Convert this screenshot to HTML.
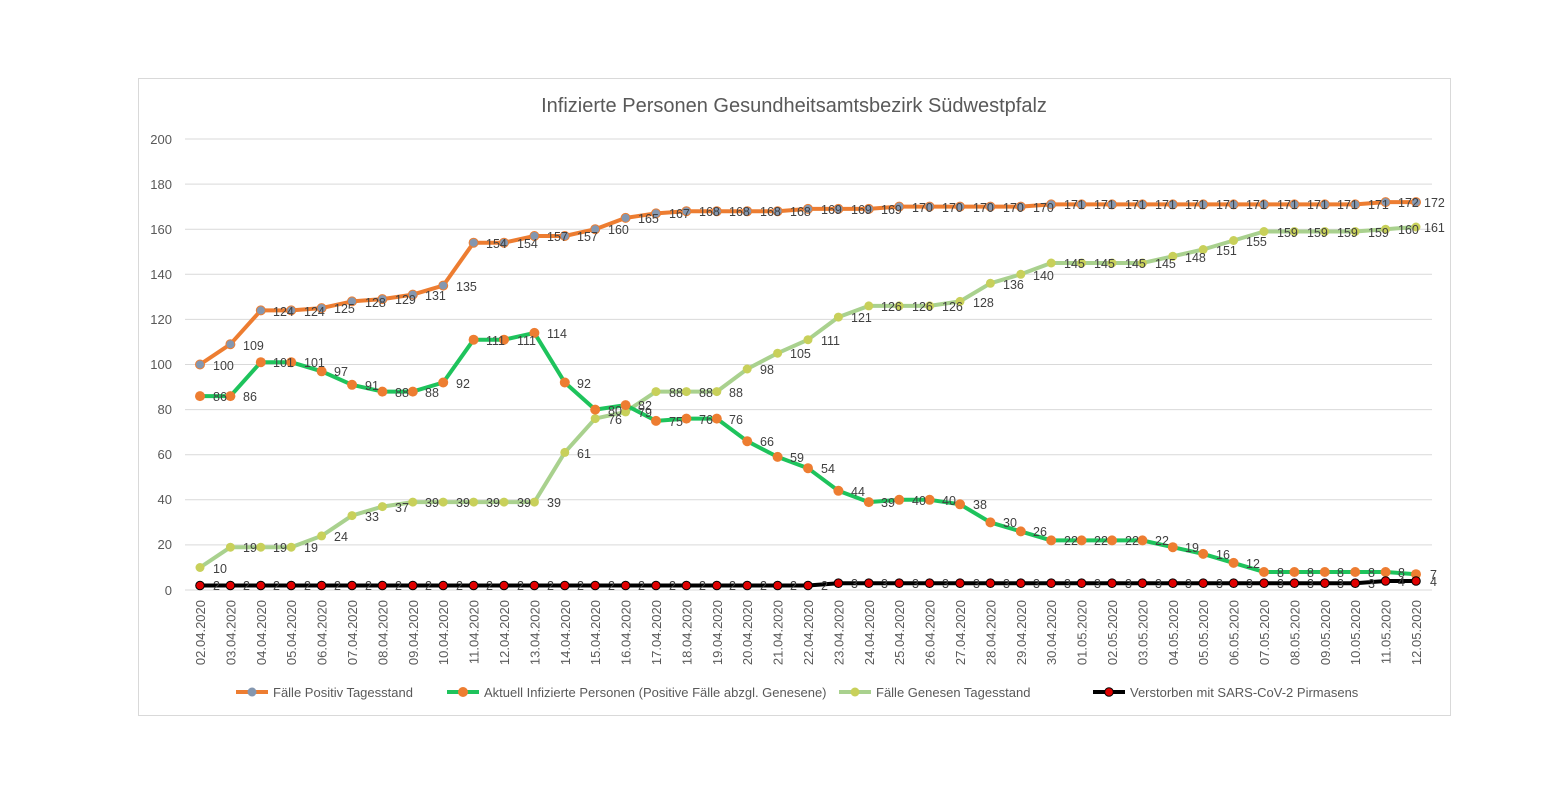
<!DOCTYPE html>
<html><head><meta charset="utf-8"><style>
body{margin:0;background:#fff;}
svg{display:block;font-family:"Liberation Sans",sans-serif;}
.l text{font-size:12.5px;fill:#404040;}
.ax{font-size:13px;fill:#595959;}
</style></head><body>
<svg width="1544" height="812" viewBox="0 0 1544 812">
<defs>
<marker id="mp" markerUnits="userSpaceOnUse" markerWidth="12" markerHeight="12" refX="6" refY="6"><circle cx="6" cy="6" r="4.5" fill="#8497B0" stroke="#ED7D31" stroke-width="1"/></marker>
<marker id="ma" markerUnits="userSpaceOnUse" markerWidth="12" markerHeight="12" refX="6" refY="6"><circle cx="6" cy="6" r="5" fill="#ED7D31"/></marker>
<marker id="mr" markerUnits="userSpaceOnUse" markerWidth="12" markerHeight="12" refX="6" refY="6"><circle cx="6" cy="6" r="4.5" fill="#C8D05A"/></marker>
<marker id="md" markerUnits="userSpaceOnUse" markerWidth="12" markerHeight="12" refX="6" refY="6"><circle cx="6" cy="6" r="4.3" fill="#E00000" stroke="#000" stroke-width="1"/></marker>
</defs>
<rect x="138.5" y="78.5" width="1312" height="637" fill="#fff" stroke="#d9d9d9"/>
<text x="794" y="112" text-anchor="middle" font-size="20" fill="#595959">Infizierte Personen Gesundheitsamtsbezirk Südwestpfalz</text>
<g stroke="#d9d9d9" stroke-width="1">
<line x1="185" x2="1432" y1="139" y2="139"/><line x1="185" x2="1432" y1="184.1" y2="184.1"/><line x1="185" x2="1432" y1="229.2" y2="229.2"/><line x1="185" x2="1432" y1="274.3" y2="274.3"/><line x1="185" x2="1432" y1="319.4" y2="319.4"/><line x1="185" x2="1432" y1="364.5" y2="364.5"/><line x1="185" x2="1432" y1="409.6" y2="409.6"/><line x1="185" x2="1432" y1="454.7" y2="454.7"/><line x1="185" x2="1432" y1="499.8" y2="499.8"/><line x1="185" x2="1432" y1="544.9" y2="544.9"/><line x1="185" x2="1432" y1="590" y2="590"/>
</g>
<g class="ax" text-anchor="end">
<text x="172" y="144">200</text><text x="172" y="189">180</text><text x="172" y="234">160</text><text x="172" y="279">140</text><text x="172" y="324">120</text><text x="172" y="369">100</text><text x="172" y="414">80</text><text x="172" y="459">60</text><text x="172" y="504">40</text><text x="172" y="549">20</text><text x="172" y="595">0</text>
</g>
<g class="ax" text-anchor="end">
<text transform="translate(205,600) rotate(-90)">02.04.2020</text><text transform="translate(235.4,600) rotate(-90)">03.04.2020</text><text transform="translate(265.8,600) rotate(-90)">04.04.2020</text><text transform="translate(296.2,600) rotate(-90)">05.04.2020</text><text transform="translate(326.6,600) rotate(-90)">06.04.2020</text><text transform="translate(357,600) rotate(-90)">07.04.2020</text><text transform="translate(387.4,600) rotate(-90)">08.04.2020</text><text transform="translate(417.8,600) rotate(-90)">09.04.2020</text><text transform="translate(448.2,600) rotate(-90)">10.04.2020</text><text transform="translate(478.6,600) rotate(-90)">11.04.2020</text><text transform="translate(509,600) rotate(-90)">12.04.2020</text><text transform="translate(539.4,600) rotate(-90)">13.04.2020</text><text transform="translate(569.8,600) rotate(-90)">14.04.2020</text><text transform="translate(600.2,600) rotate(-90)">15.04.2020</text><text transform="translate(630.6,600) rotate(-90)">16.04.2020</text><text transform="translate(661,600) rotate(-90)">17.04.2020</text><text transform="translate(691.4,600) rotate(-90)">18.04.2020</text><text transform="translate(721.8,600) rotate(-90)">19.04.2020</text><text transform="translate(752.2,600) rotate(-90)">20.04.2020</text><text transform="translate(782.6,600) rotate(-90)">21.04.2020</text><text transform="translate(813,600) rotate(-90)">22.04.2020</text><text transform="translate(843.4,600) rotate(-90)">23.04.2020</text><text transform="translate(873.8,600) rotate(-90)">24.04.2020</text><text transform="translate(904.2,600) rotate(-90)">25.04.2020</text><text transform="translate(934.6,600) rotate(-90)">26.04.2020</text><text transform="translate(965,600) rotate(-90)">27.04.2020</text><text transform="translate(995.4,600) rotate(-90)">28.04.2020</text><text transform="translate(1025.8,600) rotate(-90)">29.04.2020</text><text transform="translate(1056.2,600) rotate(-90)">30.04.2020</text><text transform="translate(1086.6,600) rotate(-90)">01.05.2020</text><text transform="translate(1117,600) rotate(-90)">02.05.2020</text><text transform="translate(1147.4,600) rotate(-90)">03.05.2020</text><text transform="translate(1177.8,600) rotate(-90)">04.05.2020</text><text transform="translate(1208.2,600) rotate(-90)">05.05.2020</text><text transform="translate(1238.6,600) rotate(-90)">06.05.2020</text><text transform="translate(1269,600) rotate(-90)">07.05.2020</text><text transform="translate(1299.4,600) rotate(-90)">08.05.2020</text><text transform="translate(1329.8,600) rotate(-90)">09.05.2020</text><text transform="translate(1360.2,600) rotate(-90)">10.05.2020</text><text transform="translate(1390.6,600) rotate(-90)">11.05.2020</text><text transform="translate(1421,600) rotate(-90)">12.05.2020</text>
</g>
<g fill="none" stroke-width="4" stroke-linejoin="round">
<polyline stroke="#A9D18E" marker-start="url(#mr)" marker-mid="url(#mr)" marker-end="url(#mr)" points="200,567.5 230.4,547.2 260.8,547.2 291.2,547.2 321.6,535.9 352,515.6 382.4,506.6 412.8,502.1 443.2,502.1 473.6,502.1 504,502.1 534.4,502.1 564.8,452.4 595.2,418.6 625.6,411.9 656,391.6 686.4,391.6 716.8,391.6 747.2,369 777.6,353.2 808,339.7 838.4,317.1 868.8,305.9 899.2,305.9 929.6,305.9 960,301.4 990.4,283.3 1020.8,274.3 1051.2,263 1081.6,263 1112,263 1142.4,263 1172.8,256.3 1203.2,249.5 1233.6,240.5 1264,231.5 1294.4,231.5 1324.8,231.5 1355.2,231.5 1385.6,229.2 1416,227"/>
<polyline stroke="#1EC35C" marker-start="url(#ma)" marker-mid="url(#ma)" marker-end="url(#ma)" points="200,396.1 230.4,396.1 260.8,362.2 291.2,362.2 321.6,371.3 352,384.8 382.4,391.6 412.8,391.6 443.2,382.5 473.6,339.7 504,339.7 534.4,332.9 564.8,382.5 595.2,409.6 625.6,405.1 656,420.9 686.4,418.6 716.8,418.6 747.2,441.2 777.6,456.9 808,468.2 838.4,490.8 868.8,502.1 899.2,499.8 929.6,499.8 960,504.3 990.4,522.4 1020.8,531.4 1051.2,540.4 1081.6,540.4 1112,540.4 1142.4,540.4 1172.8,547.2 1203.2,553.9 1233.6,562.9 1264,572 1294.4,572 1324.8,572 1355.2,572 1385.6,572 1416,574.2"/>
<polyline stroke="#ED7D31" marker-start="url(#mp)" marker-mid="url(#mp)" marker-end="url(#mp)" points="200,364.5 230.4,344.2 260.8,310.4 291.2,310.4 321.6,308.1 352,301.4 382.4,299.1 412.8,294.6 443.2,285.6 473.6,242.7 504,242.7 534.4,236 564.8,236 595.2,229.2 625.6,217.9 656,213.4 686.4,211.2 716.8,211.2 747.2,211.2 777.6,211.2 808,208.9 838.4,208.9 868.8,208.9 899.2,206.6 929.6,206.6 960,206.6 990.4,206.6 1020.8,206.6 1051.2,204.4 1081.6,204.4 1112,204.4 1142.4,204.4 1172.8,204.4 1203.2,204.4 1233.6,204.4 1264,204.4 1294.4,204.4 1324.8,204.4 1355.2,204.4 1385.6,202.1 1416,202.1"/>
<polyline stroke="#000" marker-start="url(#md)" marker-mid="url(#md)" marker-end="url(#md)" points="200,585.5 230.4,585.5 260.8,585.5 291.2,585.5 321.6,585.5 352,585.5 382.4,585.5 412.8,585.5 443.2,585.5 473.6,585.5 504,585.5 534.4,585.5 564.8,585.5 595.2,585.5 625.6,585.5 656,585.5 686.4,585.5 716.8,585.5 747.2,585.5 777.6,585.5 808,585.5 838.4,583.2 868.8,583.2 899.2,583.2 929.6,583.2 960,583.2 990.4,583.2 1020.8,583.2 1051.2,583.2 1081.6,583.2 1112,583.2 1142.4,583.2 1172.8,583.2 1203.2,583.2 1233.6,583.2 1264,583.2 1294.4,583.2 1324.8,583.2 1355.2,583.2 1385.6,581 1416,581"/>
</g>
<g class="l">
<text x="213" y="370">100</text><text x="243" y="350">109</text><text x="273" y="316">124</text><text x="304" y="316">124</text><text x="334" y="313">125</text><text x="365" y="307">128</text><text x="395" y="304">129</text><text x="425" y="300">131</text><text x="456" y="291">135</text><text x="486" y="248">154</text><text x="517" y="248">154</text><text x="547" y="241">157</text><text x="577" y="241">157</text><text x="608" y="234">160</text><text x="638" y="223">165</text><text x="669" y="218">167</text><text x="699" y="216">168</text><text x="729" y="216">168</text><text x="760" y="216">168</text><text x="790" y="216">168</text><text x="821" y="214">169</text><text x="851" y="214">169</text><text x="881" y="214">169</text><text x="912" y="212">170</text><text x="942" y="212">170</text><text x="973" y="212">170</text><text x="1003" y="212">170</text><text x="1033" y="212">170</text><text x="1064" y="209">171</text><text x="1094" y="209">171</text><text x="1125" y="209">171</text><text x="1155" y="209">171</text><text x="1185" y="209">171</text><text x="1216" y="209">171</text><text x="1246" y="209">171</text><text x="1277" y="209">171</text><text x="1307" y="209">171</text><text x="1337" y="209">171</text><text x="1368" y="209">171</text><text x="1398" y="207">172</text><text x="1424" y="207">172</text>
<text x="213" y="401">86</text><text x="243" y="401">86</text><text x="273" y="367">101</text><text x="304" y="367">101</text><text x="334" y="376">97</text><text x="365" y="390">91</text><text x="395" y="397">88</text><text x="425" y="397">88</text><text x="456" y="388">92</text><text x="486" y="345">111</text><text x="517" y="345">111</text><text x="547" y="338">114</text><text x="577" y="388">92</text><text x="608" y="415">80</text><text x="638" y="410">82</text><text x="669" y="426">75</text><text x="699" y="424">76</text><text x="729" y="424">76</text><text x="760" y="446">66</text><text x="790" y="462">59</text><text x="821" y="473">54</text><text x="851" y="496">44</text><text x="881" y="507">39</text><text x="912" y="505">40</text><text x="942" y="505">40</text><text x="973" y="509">38</text><text x="1003" y="527">30</text><text x="1033" y="536">26</text><text x="1064" y="545">22</text><text x="1094" y="545">22</text><text x="1125" y="545">22</text><text x="1155" y="545">22</text><text x="1185" y="552">19</text><text x="1216" y="559">16</text><text x="1246" y="568">12</text><text x="1277" y="577">8</text><text x="1307" y="577">8</text><text x="1337" y="577">8</text><text x="1368" y="577">8</text><text x="1398" y="577">8</text><text x="1430" y="579">7</text>
<text x="213" y="573">10</text><text x="243" y="552">19</text><text x="273" y="552">19</text><text x="304" y="552">19</text><text x="334" y="541">24</text><text x="365" y="521">33</text><text x="395" y="512">37</text><text x="425" y="507">39</text><text x="456" y="507">39</text><text x="486" y="507">39</text><text x="517" y="507">39</text><text x="547" y="507">39</text><text x="577" y="458">61</text><text x="608" y="424">76</text><text x="638" y="417">79</text><text x="669" y="397">88</text><text x="699" y="397">88</text><text x="729" y="397">88</text><text x="760" y="374">98</text><text x="790" y="358">105</text><text x="821" y="345">111</text><text x="851" y="322">121</text><text x="881" y="311">126</text><text x="912" y="311">126</text><text x="942" y="311">126</text><text x="973" y="307">128</text><text x="1003" y="289">136</text><text x="1033" y="280">140</text><text x="1064" y="268">145</text><text x="1094" y="268">145</text><text x="1125" y="268">145</text><text x="1155" y="268">145</text><text x="1185" y="262">148</text><text x="1216" y="255">151</text><text x="1246" y="246">155</text><text x="1277" y="237">159</text><text x="1307" y="237">159</text><text x="1337" y="237">159</text><text x="1368" y="237">159</text><text x="1398" y="234">160</text><text x="1424" y="232">161</text>
<text x="213" y="590">2</text><text x="243" y="590">2</text><text x="273" y="590">2</text><text x="304" y="590">2</text><text x="334" y="590">2</text><text x="365" y="590">2</text><text x="395" y="590">2</text><text x="425" y="590">2</text><text x="456" y="590">2</text><text x="486" y="590">2</text><text x="517" y="590">2</text><text x="547" y="590">2</text><text x="577" y="590">2</text><text x="608" y="590">2</text><text x="638" y="590">2</text><text x="669" y="590">2</text><text x="699" y="590">2</text><text x="729" y="590">2</text><text x="760" y="590">2</text><text x="790" y="590">2</text><text x="821" y="590">2</text><text x="851" y="588">3</text><text x="881" y="588">3</text><text x="912" y="588">3</text><text x="942" y="588">3</text><text x="973" y="588">3</text><text x="1003" y="588">3</text><text x="1033" y="588">3</text><text x="1064" y="588">3</text><text x="1094" y="588">3</text><text x="1125" y="588">3</text><text x="1155" y="588">3</text><text x="1185" y="588">3</text><text x="1216" y="588">3</text><text x="1246" y="588">3</text><text x="1277" y="588">3</text><text x="1307" y="588">3</text><text x="1337" y="588">3</text><text x="1368" y="588">3</text><text x="1398" y="586">4</text><text x="1430" y="586">4</text>
</g>
<g stroke-width="4">
<line x1="236" x2="268" y1="692" y2="692" stroke="#ED7D31"/><circle cx="252" cy="692" r="4.5" fill="#8497B0"/>
<line x1="447" x2="479" y1="692" y2="692" stroke="#1EC35C"/><circle cx="463" cy="692" r="5" fill="#ED7D31" stroke="none"/>
<line x1="839" x2="871" y1="692" y2="692" stroke="#A9D18E"/><circle cx="855" cy="692" r="4.5" fill="#C8D05A" stroke="none"/>
<line x1="1093" x2="1125" y1="692" y2="692" stroke="#000"/><circle cx="1109" cy="692" r="4.3" fill="#E00000" stroke="#000" stroke-width="1"/>
</g>
<g class="ax">
<text x="273" y="697">Fälle Positiv Tagesstand</text>
<text x="484" y="697">Aktuell Infizierte Personen (Positive Fälle abzgl. Genesene)</text>
<text x="876" y="697">Fälle Genesen Tagesstand</text>
<text x="1130" y="697">Verstorben mit SARS-CoV-2 Pirmasens</text>
</g>
</svg>
</body></html>
